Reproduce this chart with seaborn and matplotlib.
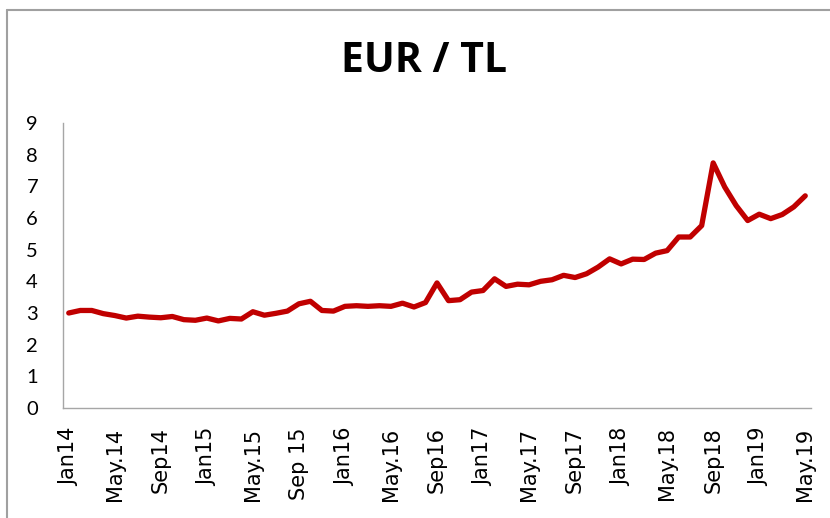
import matplotlib
matplotlib.use("Agg")
import matplotlib.pyplot as plt
from matplotlib.lines import Line2D
import seaborn as sns
import pandas as pd

months = ["Jan", "Feb", "Mar", "Apr", "May", "Jun", "Jul", "Aug", "Sep", "Oct", "Nov", "Dec"]
periods = [f"{m}{y}" for y in range(14, 20) for m in months][:65]

eur_tl = [3.00, 3.08, 3.08, 2.98, 2.92, 2.84, 2.90, 2.87, 2.85, 2.89, 2.79, 2.77,
          2.84, 2.75, 2.83, 2.81, 3.04, 2.93, 2.99, 3.06, 3.29, 3.37, 3.08, 3.06,
          3.21, 3.23, 3.21, 3.23, 3.21, 3.31, 3.19, 3.33, 3.95, 3.39, 3.42, 3.66,
          3.71, 4.08, 3.84, 3.91, 3.89, 4.00, 4.05, 4.19, 4.12, 4.24, 4.45, 4.71,
          4.55, 4.70, 4.69, 4.89, 4.97, 5.40, 5.40, 5.76, 7.74, 6.98, 6.39, 5.92,
          6.12, 5.98, 6.11, 6.35, 6.70]

tick_labels = ["Jan14", "May.14", "Sep14", "Jan15", "May.15", "Sep 15", "Jan16", "May.16",
               "Sep16", "Jan17", "May.17", "Sep17", "Jan18", "May.18", "Sep18", "Jan19", "May.19"]

df = pd.DataFrame({"idx": range(len(eur_tl)), "period": periods, "value": eur_tl})

sns.set_style("white")
plt.rcParams["font.family"] = ["DejaVu Sans"]
plt.rcParams["text.color"] = "black"
plt.rcParams["xtick.color"] = "black"
plt.rcParams["ytick.color"] = "black"
plt.rcParams["xtick.labelcolor"] = "black"
plt.rcParams["ytick.labelcolor"] = "black"

fig = plt.figure(figsize=(8.3, 5.18), dpi=100)
ax = fig.add_axes([63 / 830, 1 - 408 / 518, (811 - 63) / 830, (408 - 123) / 518])

sns.lineplot(data=df, x="idx", y="value", ax=ax, color="#C00000", linewidth=3.8,
             solid_capstyle="round", solid_joinstyle="round")

ax.set_xlim(-0.5, len(eur_tl) - 0.5)
ax.set_ylim(0, 9)
ax.set_yticks(range(0, 10))
ax.set_yticklabels([str(v) for v in range(0, 10)], fontfamily="Lato", fontsize=14.5, color="black")
ax.set_xticks(list(range(0, len(eur_tl), 4)))
ax.set_xticklabels(tick_labels, rotation=90, fontfamily="DejaVu Sans", fontsize=15, color="black")
ax.tick_params(axis="y", length=0, pad=18)
ax.tick_params(axis="x", length=0, pad=14)
ax.set_xlabel("")
ax.set_ylabel("")

for side in ["top", "right"]:
    ax.spines[side].set_visible(False)
for side in ["left", "bottom"]:
    ax.spines[side].set_color("#A6A6A6")
    ax.spines[side].set_linewidth(1.0)

fig.text(424 / 830, 1 - 62 / 518, "EUR / TL", ha="center", va="center", color="black",
         fontfamily="Open Sans", fontweight="bold", fontsize=29.5)

# chart border (top and left visible)
fig.add_artist(Line2D([7 / 830, 1.0], [1 - 10 / 518, 1 - 10 / 518], transform=fig.transFigure,
                      color="#A0A0A0", linewidth=1.5))
fig.add_artist(Line2D([7 / 830, 7 / 830], [0.0, 1 - 10 / 518], transform=fig.transFigure,
                      color="#A0A0A0", linewidth=1.5))

fig.savefig("out.png", dpi=100)
